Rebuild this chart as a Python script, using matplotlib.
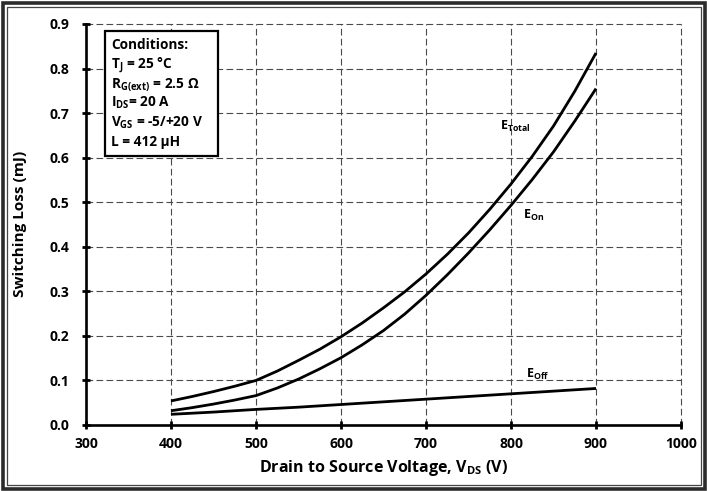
import matplotlib

matplotlib.use("Agg")  # headless
import matplotlib.pyplot as plt
from matplotlib.patches import Rectangle

# Values (V in volts, energies in mJ)
vds = [400, 425, 450, 475, 500, 525, 550, 575, 600, 625, 650,
       675, 700, 725, 750, 775, 800, 825, 850, 875, 900]
e_total = [0.054, 0.064, 0.075, 0.087, 0.100, 0.121, 0.145, 0.170, 0.198, 0.229, 0.263,
           0.299, 0.339, 0.383, 0.431, 0.484, 0.541, 0.603, 0.671, 0.749, 0.835]
e_on = [0.032, 0.039, 0.047, 0.056, 0.066, 0.083, 0.103, 0.126, 0.151, 0.180, 0.212,
        0.249, 0.291, 0.337, 0.386, 0.438, 0.493, 0.551, 0.613, 0.682, 0.755]
e_off = [0.024, 0.0265, 0.029, 0.032, 0.035, 0.0375, 0.040, 0.043, 0.046, 0.049, 0.052,
         0.055, 0.058, 0.061, 0.064, 0.067, 0.070, 0.073, 0.076, 0.079, 0.082]

x_ticks = [300, 400, 500, 600, 700, 800, 900, 1000]
y_ticks = [0.0, 0.1, 0.2, 0.3, 0.4, 0.5, 0.6, 0.7, 0.8, 0.9]

curve_labels = [r"E$_{Total}$", r"E$_{On}$", r"E$_{Off}$"]
conditions = [
    "Conditions:",
    r"T$_{J}$ = 25 °C",
    r"R$_{G(ext)}$ = 2.5 Ω",
    r"I$_{DS}$= 20 A",
    r"V$_{GS}$ = -5/+20 V",
    "L = 412 µH",
]

INK = "black"
GRID = "#4a4a4a"
FONTS = ["Open Sans", "DejaVu Sans"]

plt.rcParams.update({
    "font.family": FONTS,
    "font.weight": "bold",
    "mathtext.fontset": "custom",
    "mathtext.rm": "Open Sans:bold",
    "mathtext.it": "Open Sans:bold",
    "mathtext.bf": "Open Sans:bold",
    "mathtext.default": "bf",
})

W, H = 707, 491
fig = plt.figure(figsize=(W / 100, H / 100), dpi=100)
fig.patch.set_facecolor("white")

# axes box in pixels: x 86..681, y 24..425
L, R, T, B = 86, 681, 24, 425
ax = fig.add_axes([L / W, 1 - B / H, (R - L) / W, (B - T) / H])

for series in (e_total, e_on, e_off):
    ax.plot(vds, series, color=INK, lw=2.0, solid_capstyle="butt",
            solid_joinstyle="round")

ax.set_xlim(300, 1000)
ax.set_ylim(0, 0.9)
ax.set_xticks(x_ticks)
ax.set_yticks(y_ticks)
ax.set_xticklabels([str(v) for v in x_ticks])
ax.set_yticklabels([f"{v:.1f}" for v in y_ticks])
ax.tick_params(direction="inout", length=6, width=2, labelsize=10,
               colors=INK)
ax.tick_params(axis="y", pad=9)
ax.tick_params(axis="x", pad=6)
for lbl in ax.get_xticklabels() + ax.get_yticklabels():
    lbl.set_fontweight("bold")

ax.grid(True, color=GRID, lw=0.8, linestyle=(0, (6, 3)))
ax.set_axisbelow(True)
for gl in ax.get_xgridlines() + ax.get_ygridlines():
    gl.set_clip_on(False)

ax.spines["top"].set_visible(False)
ax.spines["right"].set_visible(False)
ax.spines["left"].set_linewidth(1.9)
ax.spines["bottom"].set_linewidth(1.9)

# curve labels
ax.text(787, 0.662, curve_labels[0], fontsize=9, ha="left", va="baseline")
ax.text(814, 0.462, curve_labels[1], fontsize=9, ha="left", va="baseline")
ax.text(818, 0.106, curve_labels[2], fontsize=9, ha="left", va="baseline")


def px_to_ax(px, py):
    return (px - L) / (R - L), (B - py) / (B - T)


# conditions box
bx0, by0 = px_to_ax(105, 156)
bx1, by1 = px_to_ax(218, 31)
ax.add_patch(Rectangle((bx0, by0), bx1 - bx0, by1 - by0, transform=ax.transAxes,
                       facecolor="white", edgecolor=INK, lw=1.6, zorder=5))
baselines = [49, 68, 87.5, 107, 126.5, 146]
for line, py in zip(conditions, baselines):
    tx, ty = px_to_ax(111, py)
    ax.text(tx, ty, line, transform=ax.transAxes, fontsize=9.8,
            ha="left", va="baseline", zorder=6)

# axis titles
fig.text(20 / W, 1 - 224 / H, "Switching Loss (mJ)", rotation=90,
         ha="center", va="center", fontsize=11, fontweight="bold")
fig.text((L + R) / 2 / W, 1 - 468 / H, r"Drain to Source Voltage, V$_{DS}$ (V)",
         ha="center", va="center", fontsize=11.5, fontweight="bold")

# double frame round the whole picture
fig.add_artist(Rectangle((2.5 / W, 2.5 / H), 1 - 5 / W, 1 - 5 / H,
                         transform=fig.transFigure, fill=False,
                         edgecolor="#2b2b2b", lw=2.6))
fig.add_artist(Rectangle((6.5 / W, 6.5 / H), 1 - 13 / W, 1 - 13 / H,
                         transform=fig.transFigure, fill=False,
                         edgecolor="#444444", lw=0.9))

fig.savefig("out.png", dpi=100, facecolor="white")
